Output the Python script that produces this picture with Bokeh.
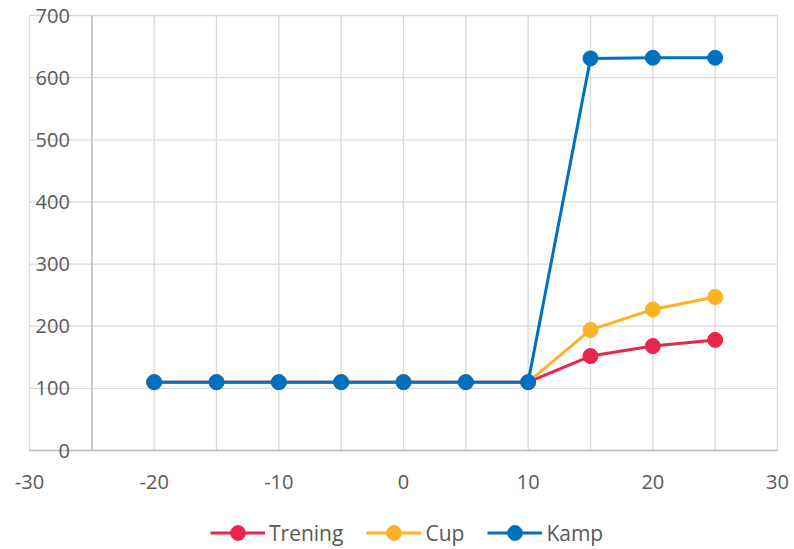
from bokeh.plotting import figure
from bokeh.models import ColumnDataSource, Legend
from bokeh.core.properties import value
from bokeh.embed import file_html
from bokeh.resources import INLINE

# Series data
x_vals = [-20, -15, -10, -5, 0, 5, 10, 15, 20, 25]
trening = [110, 110, 110, 110, 110, 110, 110, 152, 168, 178]
cup = [110, 110, 110, 110, 110, 110, 110, 194, 227, 247]
kamp = [110, 110, 110, 110, 110, 110, 110, 631, 632, 632]

series_names = ["Trening", "Cup", "Kamp"]
series_colors = ["#E8254A", "#FCB225", "#0070C0"]

# Axes
x_ticks = [-30, -20, -10, 0, 10, 20, 30]
x_grid = [-30, -25, -20, -15, -10, -5, 0, 5, 10, 15, 20, 25, 30]
y_ticks = [0, 100, 200, 300, 400, 500, 600, 700]
x_min, x_max = -30, 30
y_min, y_max = 0, 700
y_axis_x = -25

FONT = "Open Sans"
TEXT_COLOR = "#595959"
GRID_COLOR = "#D9D9D9"
AXIS_COLOR = "#BFBFBF"

# Canvas layout: plotting area box in pixels, frame spans the whole canvas
W, H = 794, 549
left_px, right_px, top_px, bottom_px = 29, 777, 15, 450
sx = (right_px - left_px) / (x_max - x_min)
sy = (bottom_px - top_px) / (y_max - y_min)
xr = (x_min - left_px / sx, x_max + (W - right_px) / sx)
yr = (y_min - (H - bottom_px) / sy, y_max + top_px / sy)

p = figure(width=W, height=H, x_range=xr, y_range=yr,
           output_backend="svg", toolbar_location=None,
           min_border=0)
p.outline_line_color = None
p.background_fill_color = "white"
p.border_fill_color = "white"
p.xaxis.visible = False
p.yaxis.visible = False
p.xgrid.visible = False
p.ygrid.visible = False

# grid lines
p.segment(x0=x_grid, x1=x_grid, y0=[y_min] * len(x_grid), y1=[y_max] * len(x_grid),
          line_color=GRID_COLOR, line_width=1.3)
p.segment(x0=[x_min] * len(y_ticks), x1=[x_max] * len(y_ticks), y0=y_ticks, y1=y_ticks,
          line_color=GRID_COLOR, line_width=1.3)

# axis lines: horizontal at y = 0, vertical at x = -25
p.segment(x0=[x_min], x1=[x_max], y0=[y_min], y1=[y_min], line_color=AXIS_COLOR, line_width=1.5)
p.segment(x0=[y_axis_x], x1=[y_axis_x], y0=[y_min], y1=[y_max], line_color=AXIS_COLOR, line_width=1.5)

# tick labels
xsrc = ColumnDataSource(dict(x=x_ticks, y=[y_min] * len(x_ticks), t=[str(v) for v in x_ticks]))
p.text(x="x", y="y", text="t", source=xsrc, text_align="center", text_baseline="middle",
       y_offset=31, text_font=value(FONT), text_font_size="20px", text_color=TEXT_COLOR)
ysrc = ColumnDataSource(dict(x=[y_axis_x] * len(y_ticks), y=y_ticks, t=[str(v) for v in y_ticks]))
p.text(x="x", y="y", text="t", source=ysrc, text_align="right", text_baseline="middle",
       x_offset=-22, text_font=value(FONT), text_font_size="20px", text_color=TEXT_COLOR)

legend = Legend(items=[], orientation="horizontal", location=(210, -2))
p.add_layout(legend)

for name, ys, color in zip(series_names, [trening, cup, kamp], series_colors):
    p.line(x_vals, ys, line_color=color, line_width=3, legend_label=name)
    p.scatter(x_vals, ys, size=15, fill_color=color, line_color=color, legend_label=name)

lg = p.legend[0]
lg.border_line_color = None
lg.background_fill_alpha = 0
lg.padding = 0
lg.margin = 0
lg.spacing = 23
lg.glyph_width = 55
lg.glyph_height = 37
lg.label_height = 37
lg.label_standoff = 4
lg.label_text_font = FONT
lg.label_text_font_size = "21px"
lg.label_text_color = TEXT_COLOR

open("out.html", "w").write(file_html(p, INLINE))
